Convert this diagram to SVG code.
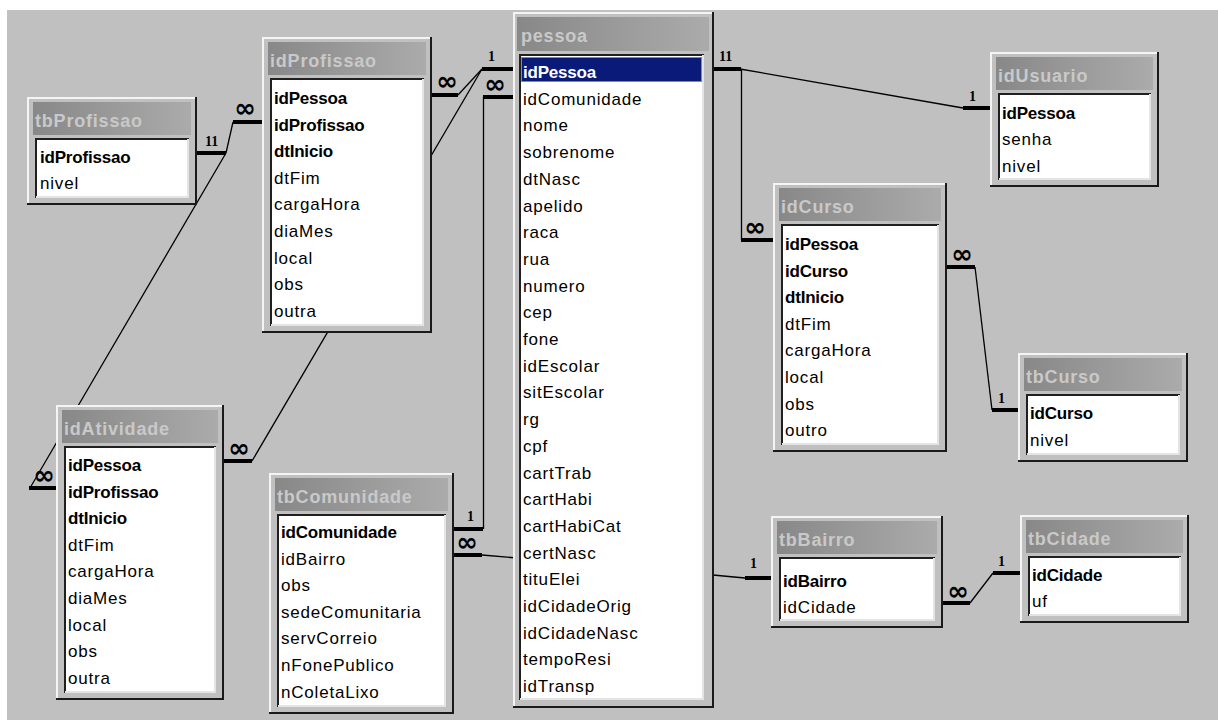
<svg xmlns="http://www.w3.org/2000/svg" width="1218" height="720" viewBox="0 0 1218 720">
<defs>
<linearGradient id="tg" x1="0" y1="0" x2="1" y2="0">
<stop offset="0" stop-color="#888888"/>
<stop offset="1" stop-color="#ababab"/>
</linearGradient>
<style>
.win{fill:#c0c0c0}
.hi{fill:none;stroke:#f4f4f4;stroke-width:2}
.sh{fill:none;stroke:#1a1a1a;stroke-width:2}
.tb{fill:url(#tg)}
.ttl{font-family:"Liberation Sans",Arial,sans-serif;font-weight:bold;font-size:18px;letter-spacing:0.8px;fill:#c9c9c9}
.lst{fill:#ffffff}
.lsh{fill:none;stroke:#202020;stroke-width:2}
.lhi{fill:none;stroke:#e4e4e4;stroke-width:2}
.f{font-family:"Liberation Sans",Arial,sans-serif;font-size:17px;letter-spacing:0.8px;fill:#000}
.k{font-family:"Liberation Sans",Arial,sans-serif;font-size:17px;font-weight:bold;letter-spacing:-0.2px;fill:#000}
.sel{fill:#0a1a78}
.foc{fill:none;stroke:#ffff99;stroke-width:1;stroke-dasharray:1 1}
.ks{font-family:"Liberation Sans",Arial,sans-serif;font-size:17px;font-weight:bold;letter-spacing:-0.2px;fill:#ffffff}
.stub{stroke:#000;stroke-width:4;fill:none}
.ln{stroke:#000;stroke-width:1.3;fill:none}
.one{font-family:"Liberation Serif","Times New Roman",serif;font-weight:bold;font-size:14px;fill:#000}
.inf{font-family:"DejaVu Sans",sans-serif;font-weight:bold;font-size:26px;fill:#000;text-anchor:middle}
</style>
</defs>
<rect x="0" y="0" width="1218" height="720" fill="#ffffff"/>
<rect x="7" y="10" width="1211" height="710" fill="#c0c0c0"/>

<g id="connectors">
<line class="ln" x1="226" y1="153" x2="233" y2="122"/>
<line class="ln" x1="226" y1="153" x2="30" y2="488"/>
<line class="ln" x1="252" y1="461" x2="482" y2="69"/>
<line class="ln" x1="458" y1="95" x2="482" y2="69"/>
<line class="ln" x1="483.5" y1="97" x2="483.5" y2="529"/>
<polyline class="ln" points="482,555 713,575 734,577 745,578"/>
<line class="ln" x1="740" y1="69" x2="963" y2="108"/>
<line class="ln" x1="741.5" y1="69" x2="741.5" y2="240"/>
<line class="ln" x1="975" y1="267" x2="992" y2="410"/>
<line class="ln" x1="970" y1="603" x2="993" y2="573"/>
<path class="stub" d="M197,153 H226"/>
<path class="stub" d="M233,122 H262"/>
<path class="stub" d="M29,488 H56"/>
<path class="stub" d="M224,461 H252"/>
<path class="stub" d="M432,95 H458"/>
<path class="stub" d="M482,69 H513"/>
<path class="stub" d="M483,97 H513"/>
<path class="stub" d="M454,529 H483"/>
<path class="stub" d="M454,555 H482"/>
<path class="stub" d="M745,578 H771"/>
<path class="stub" d="M714,69 H741"/>
<path class="stub" d="M963,108 H990"/>
<path class="stub" d="M741,240 H773"/>
<path class="stub" d="M947,267 H975"/>
<path class="stub" d="M992,410 H1018"/>
<path class="stub" d="M943,603 H970"/>
<path class="stub" d="M993,573 H1020"/>
<text class="one" x="205" y="146">11</text>
<text class="inf" x="245" y="117">∞</text>
<text class="inf" x="44" y="484">∞</text>
<text class="inf" x="239" y="457">∞</text>
<text class="inf" x="447" y="90">∞</text>
<text class="one" x="488" y="61">1</text>
<text class="inf" x="495" y="93">∞</text>
<text class="one" x="467" y="521">1</text>
<text class="inf" x="467" y="551">∞</text>
<text class="one" x="750" y="568">1</text>
<text class="one" x="719" y="61">11</text>
<text class="one" x="969" y="101">1</text>
<text class="inf" x="755" y="236">∞</text>
<text class="inf" x="962" y="263">∞</text>
<text class="one" x="998" y="403">1</text>
<text class="inf" x="958" y="600">∞</text>
<text class="one" x="998" y="566">1</text>
</g>

<g id="tbProfissao">
<rect class="win" x="27" y="97" width="170" height="108"/>
<path class="hi" d="M28,205 V98 H197"/>
<path class="sh" d="M27,204 H196 V97"/>
<rect class="tb" x="33" y="102" width="158" height="33"/>
<text class="ttl" x="35" y="127">tbProfissao</text>
<rect class="lst" x="35" y="138" width="154" height="60"/>
<path class="lsh" d="M36,198 V139 H189"/>
<path class="lhi" d="M36,197 H188 V139"/>
<text class="k" x="40" y="163">idProfissao</text>
<text class="f" x="40" y="189">nivel</text>
</g>

<g id="idProfissao">
<rect class="win" x="262" y="37" width="170" height="296"/>
<path class="hi" d="M263,333 V38 H432"/>
<path class="sh" d="M262,332 H431 V37"/>
<rect class="tb" x="268" y="42" width="158" height="33"/>
<text class="ttl" x="270" y="67">idProfissao</text>
<rect class="lst" x="270" y="78" width="154" height="248"/>
<path class="lsh" d="M271,326 V79 H424"/>
<path class="lhi" d="M271,325 H423 V79"/>
<text class="k" x="274" y="104">idPessoa</text>
<text class="k" x="274" y="130.6">idProfissao</text>
<text class="k" x="274" y="157.2">dtInicio</text>
<text class="f" x="274" y="183.8">dtFim</text>
<text class="f" x="274" y="210.4">cargaHora</text>
<text class="f" x="274" y="237">diaMes</text>
<text class="f" x="274" y="263.6">local</text>
<text class="f" x="274" y="290.2">obs</text>
<text class="f" x="274" y="316.8">outra</text>
</g>

<g id="pessoa">
<rect class="win" x="513" y="12" width="201" height="696"/>
<path class="hi" d="M514,708 V13 H714"/>
<path class="sh" d="M513,707 H713 V12"/>
<rect class="tb" x="517" y="17" width="192" height="34"/>
<text class="ttl" x="521" y="42">pessoa</text>
<rect class="lst" x="519" y="54" width="185" height="646"/>
<path class="lsh" d="M520,700 V55 H704"/>
<path class="lhi" d="M520,699 H703 V55"/>
<rect class="sel" x="521" y="57" width="181" height="25"/>
<rect class="foc" x="521.5" y="57.5" width="180" height="24"/>
<text class="ks" x="523" y="78">idPessoa</text>
<text class="f" x="523" y="104.7">idComunidade</text>
<text class="f" x="523" y="131.4">nome</text>
<text class="f" x="523" y="158.1">sobrenome</text>
<text class="f" x="523" y="184.8">dtNasc</text>
<text class="f" x="523" y="211.5">apelido</text>
<text class="f" x="523" y="238.2">raca</text>
<text class="f" x="523" y="264.9">rua</text>
<text class="f" x="523" y="291.6">numero</text>
<text class="f" x="523" y="318.3">cep</text>
<text class="f" x="523" y="345">fone</text>
<text class="f" x="523" y="371.7">idEscolar</text>
<text class="f" x="523" y="398.4">sitEscolar</text>
<text class="f" x="523" y="425.1">rg</text>
<text class="f" x="523" y="451.8">cpf</text>
<text class="f" x="523" y="478.5">cartTrab</text>
<text class="f" x="523" y="505.2">cartHabi</text>
<text class="f" x="523" y="531.9">cartHabiCat</text>
<text class="f" x="523" y="558.6">certNasc</text>
<text class="f" x="523" y="585.3">tituElei</text>
<text class="f" x="523" y="612">idCidadeOrig</text>
<text class="f" x="523" y="638.7">idCidadeNasc</text>
<text class="f" x="523" y="665.4">tempoResi</text>
<text class="f" x="523" y="692.1">idTransp</text>
</g>

<g id="idUsuario">
<rect class="win" x="990" y="52" width="169" height="135"/>
<path class="hi" d="M991,187 V53 H1159"/>
<path class="sh" d="M990,186 H1158 V52"/>
<rect class="tb" x="996" y="57" width="157" height="33"/>
<text class="ttl" x="998" y="82">idUsuario</text>
<rect class="lst" x="998" y="93" width="153" height="87"/>
<path class="lsh" d="M999,180 V94 H1151"/>
<path class="lhi" d="M999,179 H1150 V94"/>
<text class="k" x="1002" y="119">idPessoa</text>
<text class="f" x="1002" y="145">senha</text>
<text class="f" x="1002" y="172">nivel</text>
</g>

<g id="idCurso">
<rect class="win" x="773" y="183" width="174" height="269"/>
<path class="hi" d="M774,452 V184 H947"/>
<path class="sh" d="M773,451 H946 V183"/>
<rect class="tb" x="779" y="188" width="162" height="33"/>
<text class="ttl" x="781" y="213">idCurso</text>
<rect class="lst" x="781" y="224" width="158" height="221"/>
<path class="lsh" d="M782,445 V225 H939"/>
<path class="lhi" d="M782,444 H938 V225"/>
<text class="k" x="785" y="250">idPessoa</text>
<text class="k" x="785" y="276.6">idCurso</text>
<text class="k" x="785" y="303.2">dtInicio</text>
<text class="f" x="785" y="329.8">dtFim</text>
<text class="f" x="785" y="356.4">cargaHora</text>
<text class="f" x="785" y="383">local</text>
<text class="f" x="785" y="409.6">obs</text>
<text class="f" x="785" y="436.2">outro</text>
</g>

<g id="tbCurso">
<rect class="win" x="1018" y="353" width="170" height="109"/>
<path class="hi" d="M1019,462 V354 H1188"/>
<path class="sh" d="M1018,461 H1187 V353"/>
<rect class="tb" x="1024" y="358" width="158" height="33"/>
<text class="ttl" x="1026" y="383">tbCurso</text>
<rect class="lst" x="1026" y="394" width="154" height="61"/>
<path class="lsh" d="M1027,455 V395 H1180"/>
<path class="lhi" d="M1027,454 H1179 V395"/>
<text class="k" x="1030" y="419">idCurso</text>
<text class="f" x="1030" y="446">nivel</text>
</g>

<g id="tbBairro">
<rect class="win" x="771" y="516" width="172" height="112"/>
<path class="hi" d="M772,628 V517 H943"/>
<path class="sh" d="M771,627 H942 V516"/>
<rect class="tb" x="777" y="521" width="160" height="33"/>
<text class="ttl" x="779" y="546">tbBairro</text>
<rect class="lst" x="779" y="557" width="156" height="64"/>
<path class="lsh" d="M780,621 V558 H935"/>
<path class="lhi" d="M780,620 H934 V558"/>
<text class="k" x="783" y="587">idBairro</text>
<text class="f" x="783" y="613">idCidade</text>
</g>

<g id="tbCidade">
<rect class="win" x="1020" y="515" width="169" height="108"/>
<path class="hi" d="M1021,623 V516 H1189"/>
<path class="sh" d="M1020,622 H1188 V515"/>
<rect class="tb" x="1026" y="520" width="157" height="33"/>
<text class="ttl" x="1028" y="545">tbCidade</text>
<rect class="lst" x="1028" y="556" width="153" height="60"/>
<path class="lsh" d="M1029,616 V557 H1181"/>
<path class="lhi" d="M1029,615 H1180 V557"/>
<text class="k" x="1032" y="581">idCidade</text>
<text class="f" x="1032" y="607">uf</text>
</g>

<g id="idAtividade">
<rect class="win" x="56" y="405" width="168" height="295"/>
<path class="hi" d="M57,700 V406 H224"/>
<path class="sh" d="M56,699 H223 V405"/>
<rect class="tb" x="62" y="410" width="156" height="33"/>
<text class="ttl" x="64" y="435">idAtividade</text>
<rect class="lst" x="64" y="446" width="152" height="247"/>
<path class="lsh" d="M65,693 V447 H216"/>
<path class="lhi" d="M65,692 H215 V447"/>
<text class="k" x="68" y="471">idPessoa</text>
<text class="k" x="68" y="497.6">idProfissao</text>
<text class="k" x="68" y="524.2">dtInicio</text>
<text class="f" x="68" y="550.8">dtFim</text>
<text class="f" x="68" y="577.4">cargaHora</text>
<text class="f" x="68" y="604">diaMes</text>
<text class="f" x="68" y="630.6">local</text>
<text class="f" x="68" y="657.2">obs</text>
<text class="f" x="68" y="683.8">outra</text>
</g>

<g id="tbComunidade">
<rect class="win" x="269" y="473" width="185" height="241"/>
<path class="hi" d="M270,714 V474 H454"/>
<path class="sh" d="M269,713 H453 V473"/>
<rect class="tb" x="275" y="478" width="173" height="33"/>
<text class="ttl" x="277" y="503">tbComunidade</text>
<rect class="lst" x="277" y="514" width="169" height="193"/>
<path class="lsh" d="M278,707 V515 H446"/>
<path class="lhi" d="M278,706 H445 V515"/>
<text class="k" x="281" y="538">idComunidade</text>
<text class="f" x="281" y="564.6">idBairro</text>
<text class="f" x="281" y="591.2">obs</text>
<text class="f" x="281" y="617.8">sedeComunitaria</text>
<text class="f" x="281" y="644.4">servCorreio</text>
<text class="f" x="281" y="671">nFonePublico</text>
<text class="f" x="281" y="697.6">nColetaLixo</text>
</g>
</svg>
